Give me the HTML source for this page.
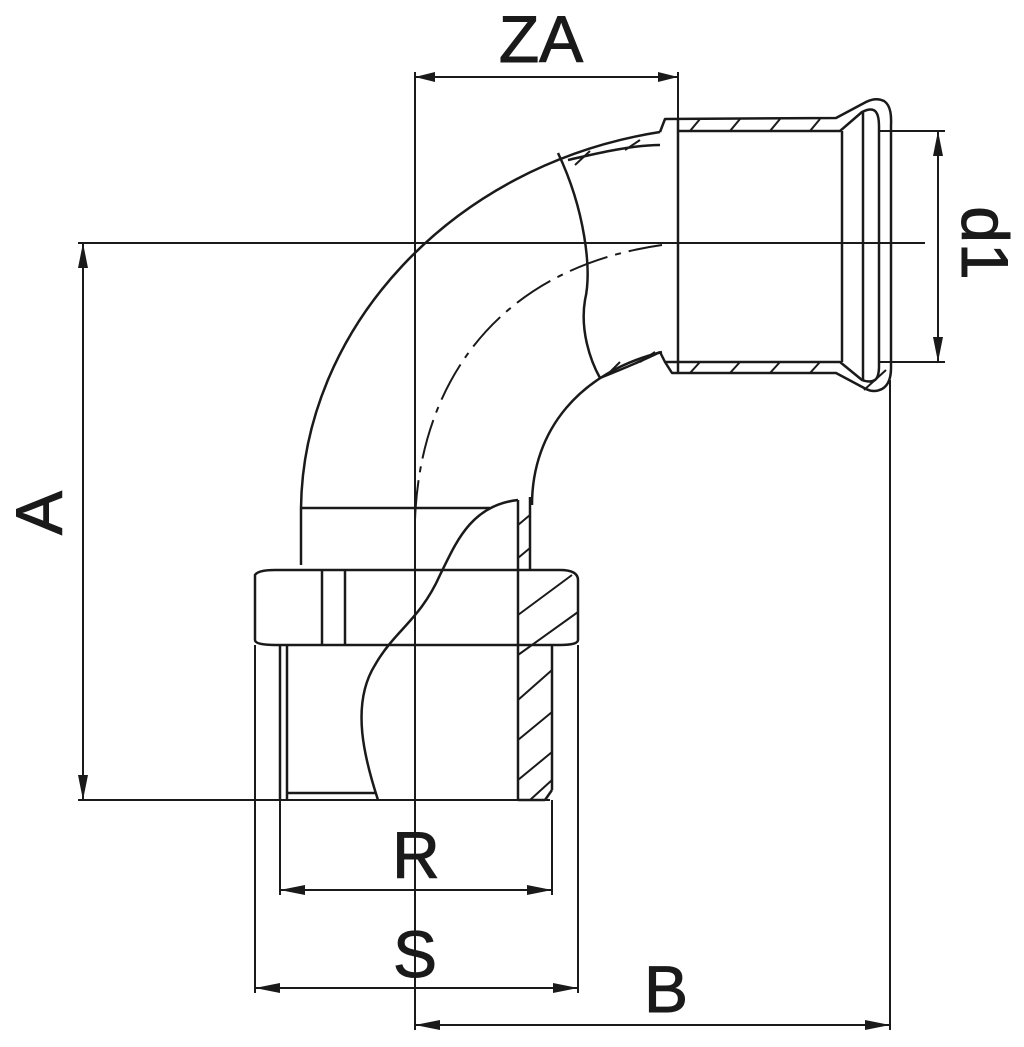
<!DOCTYPE html>
<html><head><meta charset="utf-8"><style>html,body{margin:0;padding:0;background:#fff}svg{display:block}</style></head>
<body>
<svg width="1024" height="1047" viewBox="0 0 1024 1047" xmlns="http://www.w3.org/2000/svg">
<g fill="none" stroke="#1a1a1a" stroke-width="2.5" stroke-linejoin="round">
<line x1="415" y1="72" x2="415" y2="1030" stroke-width="2"/>
<line x1="678" y1="72" x2="678" y2="130" stroke-width="2"/>
<line x1="415" y1="77" x2="678" y2="77" stroke-width="2"/>
<line x1="78" y1="243" x2="925" y2="243" stroke-width="2"/>
<line x1="78" y1="800" x2="550" y2="800" stroke-width="2"/>
<line x1="83" y1="243" x2="83" y2="800" stroke-width="2"/>
<line x1="880" y1="131" x2="945" y2="131" stroke-width="2"/>
<line x1="880" y1="362" x2="945" y2="362" stroke-width="2"/>
<line x1="938" y1="131" x2="938" y2="362" stroke-width="2"/>
<line x1="890" y1="380" x2="890" y2="1030" stroke-width="2"/>
<line x1="415" y1="1025" x2="890" y2="1025" stroke-width="2"/>
<line x1="280" y1="800" x2="280" y2="895" stroke-width="2"/>
<line x1="552" y1="800" x2="552" y2="895" stroke-width="2"/>
<line x1="280" y1="890" x2="552" y2="890" stroke-width="2"/>
<line x1="255" y1="645" x2="255" y2="993" stroke-width="2"/>
<line x1="578" y1="645" x2="578" y2="993" stroke-width="2"/>
<line x1="255" y1="988" x2="578" y2="988" stroke-width="2"/>

<!-- right pipe -->
<path d="M660,132 L665,119 L836,118 L866,102 Q876,97 884,101 Q892,106 891,125 L891,368 Q891,384 882,389 Q874,393 866,389 L836,373 L672,373 L665,362"/>
<path d="M678,131 L840,131 L862,112 Q872,107 876,112 Q879,116 879,126 L879,366 Q879,377 875,380 Q870,383 862,380 L840,362 L665,362 L660,352"/>
<line x1="678" y1="118" x2="678" y2="373"/>
<line x1="842" y1="131" x2="842" y2="362"/>
<line x1="863" y1="112" x2="863" y2="381"/>
<g stroke-width="2">
<path d="M690,131 L700,119 M730,131 L740,119 M770,131 L780,119 M810,131 L820,119"/>
<path d="M690,373 L700,362 M730,373 L740,362 M770,373 L780,362 M810,373 L820,362 M864,390 L886,370"/>
<path d="M575,165 L590,151 M625,150 L640,140"/>
<path d="M610,372 L620,362 M640,362 L655,352"/>
</g>
<!-- elbow -->
<path d="M301,565 L301,508 C303,330 450,165 660,132"/>
<path d="M568,160 C590,155 630,145 660,145"/>
<path d="M558,153 C585,210 592,270 585,300 C580,330 590,360 600,378"/>
<path d="M532,505 C532,430 580,372 662,352"/>
<path d="M600,378 C620,370 640,362 660,352"/>
<path d="M415,520 C420,380 500,268 662,245" stroke-dasharray="40,8,6,8" stroke-width="2"/>
<line x1="301" y1="508" x2="490" y2="508"/>
<!-- nut -->
<path d="M255,575 Q258,570 275,570 L560,570 Q578,570 578,580 L578,640 Q578,645 560,645 L275,645 Q255,645 255,640 Z"/>
<line x1="322" y1="570" x2="322" y2="645"/>
<line x1="345" y1="570" x2="345" y2="645"/>
<line x1="280" y1="645" x2="280" y2="800"/>
<line x1="287" y1="645" x2="287" y2="800"/>
<line x1="552" y1="645" x2="552" y2="790"/>
<line x1="287" y1="793" x2="376" y2="793"/>
<!-- cutaway -->
<path d="M518,500 C470,505 455,545 440,575 C420,620 395,630 375,665 C350,705 365,760 378,800"/>
<line x1="518" y1="500" x2="518" y2="800"/>
<line x1="530" y1="497" x2="530" y2="570"/>
<line x1="518" y1="800" x2="545" y2="800"/>
<line x1="545" y1="800" x2="552" y2="790"/>
<g stroke-width="2">
<path d="M518,525 L530,515 M518,558 L530,548 M518,615 L572,575 M518,655 L578,612 M518,700 L552,670 M518,740 L552,712 M518,780 L552,752 M530,800 L552,780"/>
</g>
</g>
<g fill="#1a1a1a">
<polygon points="415,77 435,72 435,82"/>
<polygon points="678,77 658,72 658,82"/>
<polygon points="83,243 78,268 88,268"/>
<polygon points="83,800 78,775 88,775"/>
<polygon points="938,131 933,156 943,156"/>
<polygon points="938,362 933,337 943,337"/>
<polygon points="415,1025 440,1020 440,1030"/>
<polygon points="890,1025 865,1020 865,1030"/>
<polygon points="280,890 305,885 305,895"/>
<polygon points="552,890 527,885 527,895"/>
<polygon points="255,988 280,983 280,993"/>
<polygon points="578,988 553,983 553,993"/>
</g>
<g font-family="Liberation Sans, sans-serif" font-size="66" fill="#1a1a1a" text-anchor="middle" stroke="#1a1a1a" stroke-width="1">
<text x="541" y="62">ZA</text>
<text x="416" y="878">R</text>
<text x="415" y="977">S</text>
<text x="666" y="1012">B</text>
<text transform="translate(62,513) rotate(-90)">A</text>
<text transform="translate(962,243) rotate(90)">d1</text>
</g>
</svg>
</body></html>
